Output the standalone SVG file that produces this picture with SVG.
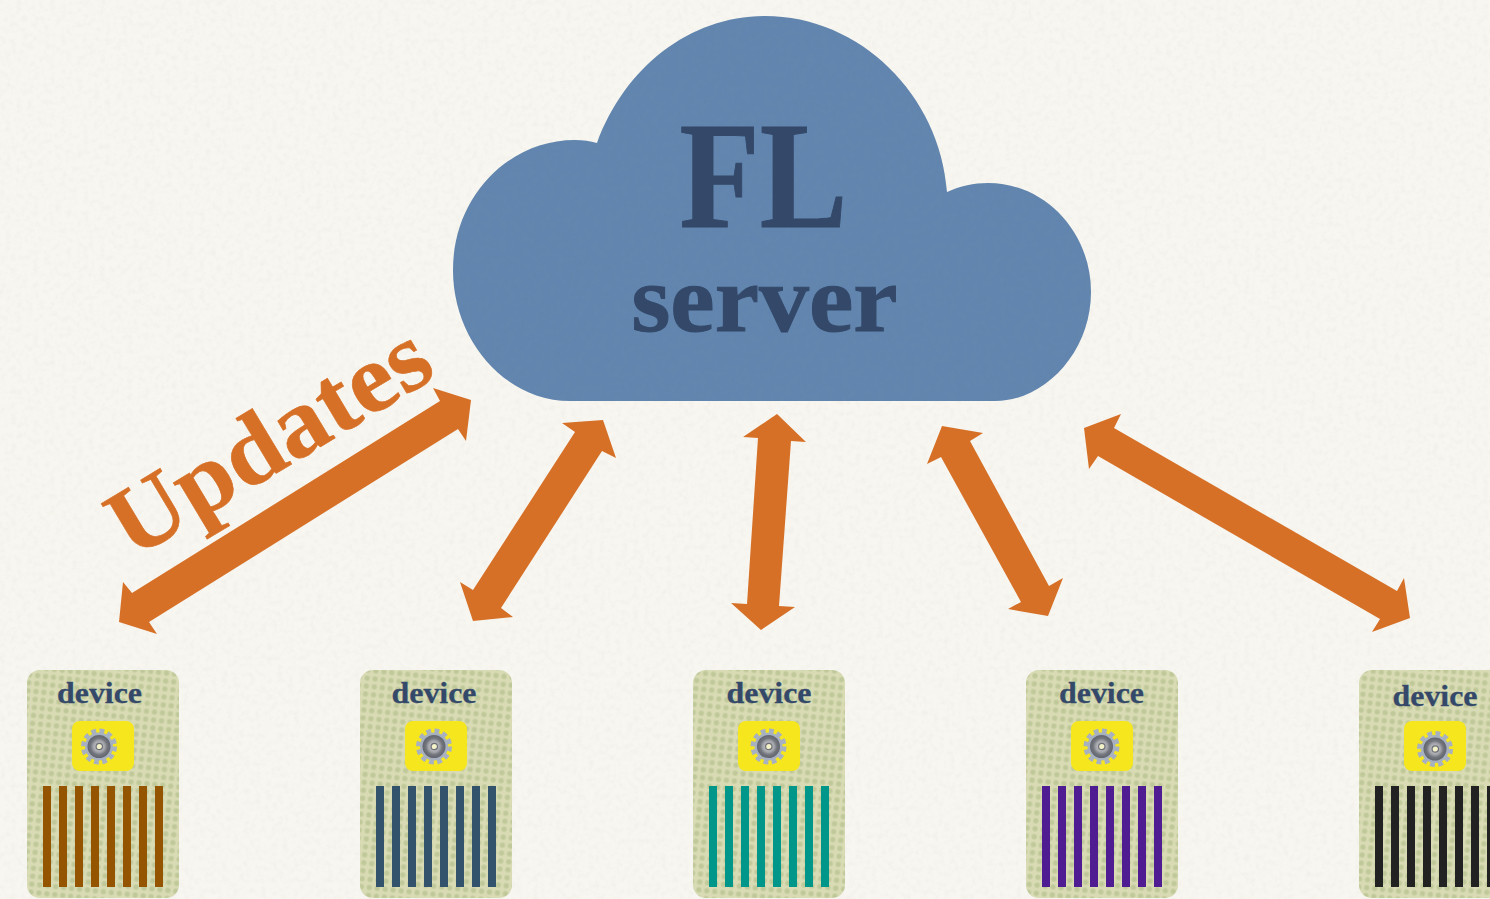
<svg xmlns="http://www.w3.org/2000/svg" width="1490" height="899" viewBox="0 0 1490 899">
<style>
.serif{font-family:"Liberation Serif","Noto Sans CJK SC",serif;font-weight:700}
.dev{font-size:30px;fill:#34496a;text-anchor:middle;stroke:#34496a;stroke-width:.3}
.card{fill:url(#dots)}
.chip{fill:#f5e61e}
.arrow{fill:#d67027}
</style>
<defs>
<filter id="paper" x="0" y="0" width="100%" height="100%"><feTurbulence type="fractalNoise" baseFrequency="0.18" numOctaves="3" seed="4"/><feColorMatrix values="0 0 0 0 0.55 0 0 0 0 0.53 0 0 0 0 0.48 0.9 0 0 0 -0.38"/></filter>
<filter id="cloudtex" x="0" y="0" width="100%" height="100%"><feTurbulence type="fractalNoise" baseFrequency="0.14" numOctaves="3" seed="9"/><feColorMatrix values="0 0 0 0 0.2 0 0 0 0 0.3 0 0 0 0 0.45 1 0 0 0 -0.38"/><feComposite in2="SourceAlpha" operator="in"/></filter>
<radialGradient id="dot"><stop offset="0" stop-color="#bcc696"/><stop offset="0.6" stop-color="#c2ca9c"/><stop offset="1" stop-color="#d8dbb3"/></radialGradient>
<pattern id="dots" width="8" height="8" patternUnits="userSpaceOnUse" patternTransform="rotate(6)"><rect width="8" height="8" fill="#d8dbb3"/><circle cx="4" cy="4" r="3.4" fill="url(#dot)"/></pattern>
<radialGradient id="hub" cx="0.5" cy="0.5" r="0.5"><stop offset="0" stop-color="#d4d5d4"/><stop offset="0.5" stop-color="#a2a4aa"/><stop offset="0.72" stop-color="#74767e"/><stop offset="1" stop-color="#62656d"/></radialGradient>
<g id="gear">
<circle r="15" fill="none" stroke="#a8b1c0" stroke-width="6" stroke-dasharray="4.6 3.254"/>
<circle r="14" fill="#a8b1c0"/>
<circle r="11.5" fill="url(#hub)"/>
<circle cx=".3" r="3.2" fill="#f4f2c8" stroke="#6d7078" stroke-width="1.2"/>
</g>
<g id="bars"><rect x="0" width="8" height="101"/><rect x="16" width="8" height="101"/><rect x="32" width="8" height="101"/><rect x="48" width="8" height="101"/><rect x="64" width="8" height="101"/><rect x="80" width="8" height="101"/><rect x="96" width="8" height="101"/><rect x="112" width="8" height="101"/></g>
<path id="cloudshape" d="M570 401C505 401 453 340 453 270C453 197 508 140 575 140C583 140 590 141 597 143C625 67 690 16 765 16C860 16 940 95 947 192C960 186 974 183 988 183C1045 183 1091 232 1091 292C1091 352 1045 401 995 401Z"/>
</defs>
<rect width="1490" height="899" fill="#f8f6f0"/>
<rect width="1490" height="899" filter="url(#paper)" opacity="0.25"/>
<g id="cloud">
<use href="#cloudshape" fill="#6185ae"/>
<use href="#cloudshape" filter="url(#cloudtex)" opacity="0.25"/>
<text class="serif" x="763.5" y="227" font-size="153" fill="#34496a" stroke="#34496a" stroke-width="1" text-anchor="middle" textLength="168" lengthAdjust="spacingAndGlyphs">FL</text>
<text class="serif" x="764.5" y="331" font-size="95" fill="#34496a" stroke="#34496a" stroke-width="1" text-anchor="middle" textLength="266" lengthAdjust="spacingAndGlyphs">server</text>
</g>
<g id="connectors">
<polygon class="arrow" points="471,400 433,388 440,401 132,593 123,582 119,622 157,634 149,622 458,429 466,441"/>
<polygon class="arrow" points="603,420 562,423 575,432 473,590 460,582 473,621 513,617 501,608 602,451 616,458"/>
<polygon class="arrow" points="777,414 743,437 758,438 747,604 731,603 761,630 795,607 779,606 791,441 806,442"/>
<polygon class="arrow" points="942,426 983,433 970,441 1049,586 1063,578 1048,616 1008,609 1021,602 941,457 927,464"/>
<polygon class="arrow" points="1084,428 1121,414 1114,428 1397,591 1404,578 1410,618 1372,632 1380,619 1098,456 1089,469"/>
</g>
<text id="updates" class="serif" transform="translate(132 560) rotate(-31)" font-size="98" fill="#d67027" stroke="#d67027" stroke-width=".6" textLength="358" lengthAdjust="spacingAndGlyphs">Updates</text>
<g id="device1">
<rect class="card" x="27" y="670" width="152" height="228" rx="13"/>
<text class="serif dev" x="99.5" y="703" textLength="85" lengthAdjust="spacingAndGlyphs">device</text>
<rect class="chip" x="72" y="721" width="62" height="50" rx="8"/>
<use href="#gear" x="99" y="746.5"/>
<use href="#bars" x="43" y="786" fill="#955500"/>
</g>
<g id="device2">
<rect class="card" x="360" y="670" width="152" height="228" rx="13"/>
<text class="serif dev" x="434" y="703" textLength="85" lengthAdjust="spacingAndGlyphs">device</text>
<rect class="chip" x="405" y="721" width="62" height="50" rx="8"/>
<use href="#gear" x="434" y="746.5"/>
<use href="#bars" x="376" y="786" fill="#33526b"/>
</g>
<g id="device3">
<rect class="card" x="693" y="670" width="152" height="228" rx="13"/>
<text class="serif dev" x="769" y="703" textLength="85" lengthAdjust="spacingAndGlyphs">device</text>
<rect class="chip" x="738" y="721" width="62" height="50" rx="8"/>
<use href="#gear" x="768.5" y="746.5"/>
<use href="#bars" x="709" y="786" fill="#00978a"/>
</g>
<g id="device4">
<rect class="card" x="1026" y="670" width="152" height="228" rx="13"/>
<text class="serif dev" x="1101.5" y="703" textLength="85" lengthAdjust="spacingAndGlyphs">device</text>
<rect class="chip" x="1071" y="721" width="62" height="50" rx="8"/>
<use href="#gear" x="1101.5" y="746.5"/>
<use href="#bars" x="1042" y="786" fill="#4f1d91"/>
</g>
<g id="device5">
<rect class="card" x="1359" y="670" width="152" height="228" rx="13"/>
<text class="serif dev" x="1435" y="706" textLength="85" lengthAdjust="spacingAndGlyphs">device</text>
<rect class="chip" x="1404" y="721" width="62" height="50" rx="8"/>
<use href="#gear" x="1435" y="749"/>
<use href="#bars" x="1375" y="786" fill="#222222"/>
</g>
</svg>
